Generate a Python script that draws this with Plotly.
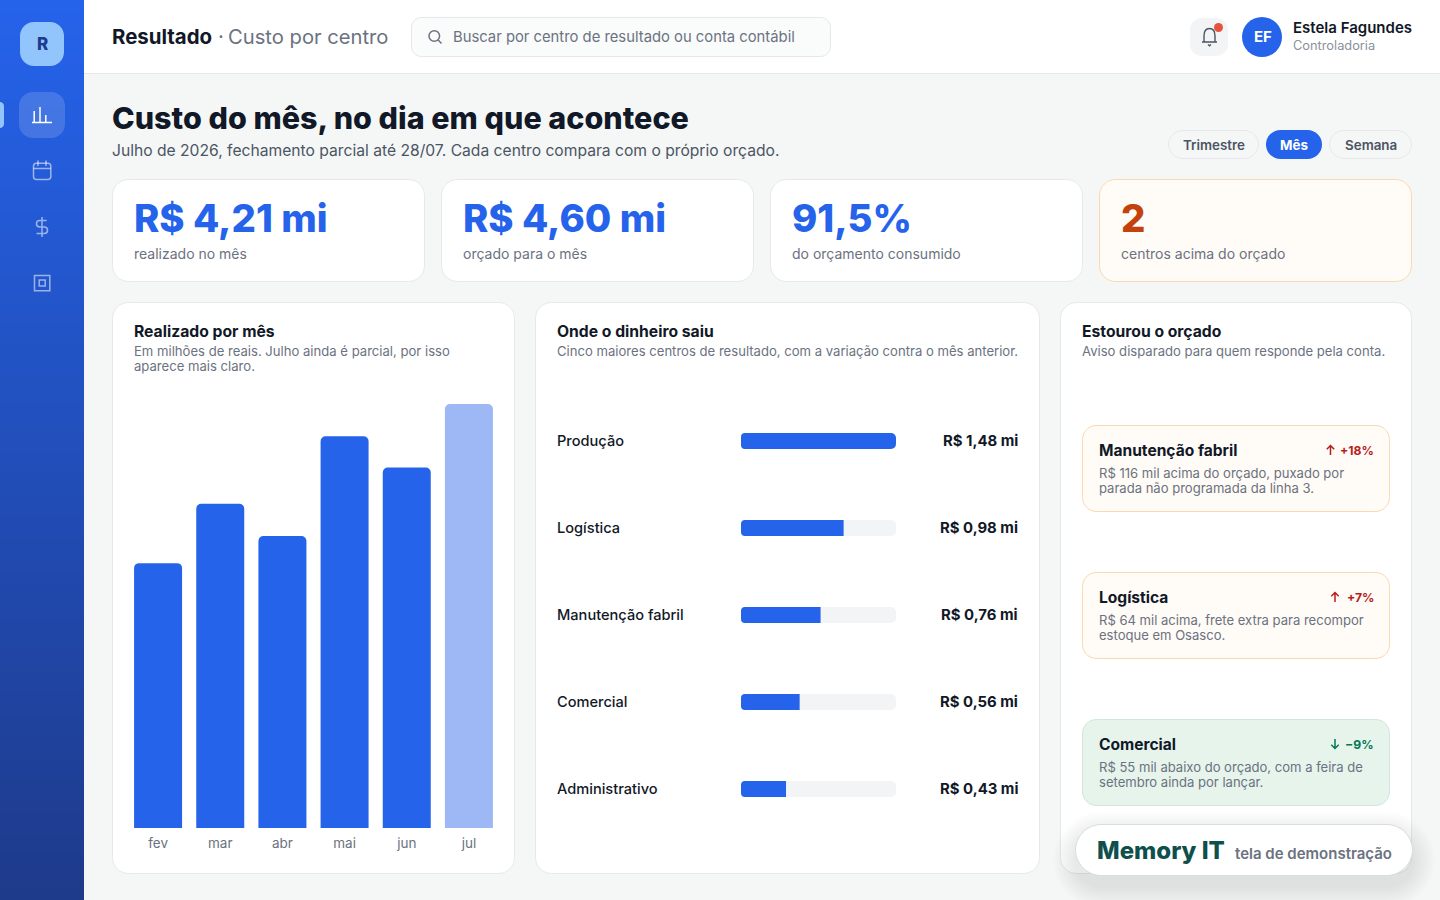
import plotly.graph_objects as go

# ---------- data ----------
months = ["fev", "mar", "abr", "mai", "jun", "jul"]
realized = [2.63, 3.22, 2.90, 3.89, 3.58, 4.21]
centers = ["Produção", "Logística", "Manutenção fabril", "Comercial", "Administrativo"]
center_values = [1.48, 0.98, 0.76, 0.56, 0.43]
kpi_values = ["R$ 4,21 mi", "R$ 4,60 mi", "91,5%", "2"]
kpi_labels = ["realizado no mês", "orçado para o mês", "do orçamento consumido", "centros acima do orçado"]
alert_titles = ["Manutenção fabril", "Logística", "Comercial"]
alert_deltas = ["+18%", "+7%", "−9%"]
alert_lines = [
    ["R$ 116 mil acima do orçado, puxado por", "parada não programada da linha 3."],
    ["R$ 64 mil acima, frete extra para recompor", "estoque em Osasco."],
    ["R$ 55 mil abaixo do orçado, com a feira de", "setembro ainda por lançar."],
]
periods = ["Trimestre", "Mês", "Semana"]

# ---------- style ----------
W, H = 1440, 900
FONT = "Inter"
BLUE = "#2563eb"
INK = "#111827"
SOFT = "#4b5563"
MUTED = "#6b7280"
LINE = "#e6e9ea"

def X(x): return x / W
def Y(y): return 1 - y / H
def P(x, y): return f"{X(x):.6f},{Y(y):.6f}"

shapes, notes = [], []

def rr_path(x0, y0, x1, y1, r):
    if isinstance(r, (int, float)):
        r = (r, r, r, r)
    tl, tr, br, bl = r
    k = 0.4477
    return (f"M{P(x0+tl,y0)} L{P(x1-tr,y0)} C{P(x1-tr*k,y0)} {P(x1,y0+tr*k)} {P(x1,y0+tr)} "
            f"L{P(x1,y1-br)} C{P(x1,y1-br*k)} {P(x1-br*k,y1)} {P(x1-br,y1)} "
            f"L{P(x0+bl,y1)} C{P(x0+bl*k,y1)} {P(x0,y1-bl*k)} {P(x0,y1-bl)} "
            f"L{P(x0,y0+tl)} C{P(x0,y0+tl*k)} {P(x0+tl*k,y0)} {P(x0+tl,y0)} Z")

def box(x0, y0, x1, y1, r, fill, line=None, layer="below"):
    if line:
        x0 += .5; y0 += .5; x1 -= .5; y1 -= .5
    shapes.append(dict(type="path", path=rr_path(x0, y0, x1, y1, r), xref="paper", yref="paper",
                       fillcolor=fill, line=dict(color=line or "rgba(0,0,0,0)", width=1 if line else 0), layer=layer))

def stroke(cmds, color, width=1.5):
    """cmds: list of ('M'|'L', x, y) or ('C', x1,y1,x2,y2,x,y)"""
    out = []
    for c in cmds:
        if c[0] == "Z":
            out.append("Z")
        elif c[0] == "C":
            out.append(f"C{P(c[1],c[2])} {P(c[3],c[4])} {P(c[5],c[6])}")
        else:
            out.append(f"{c[0]}{P(c[1],c[2])}")
    shapes.append(dict(type="path", path=" ".join(out), xref="paper", yref="paper",
                       line=dict(color=color, width=width), layer="below"))

def circle(cx, cy, r, fill=None, line=None, width=1.5):
    shapes.append(dict(type="circle", xref="paper", yref="paper", x0=X(cx-r), x1=X(cx+r), y0=Y(cy+r), y1=Y(cy-r),
                       fillcolor=fill or "rgba(0,0,0,0)", line=dict(color=line or "rgba(0,0,0,0)", width=width if line else 0),
                       layer="below"))

def text(x, y, s, size, color, weight=400, anchor="left"):
    notes.append(dict(x=X(x), y=Y(y), xref="paper", yref="paper", text=s, showarrow=False,
                      xanchor=anchor, yanchor="middle", borderpad=0, borderwidth=0,
                      font=dict(family=FONT, size=size, color=color, weight=weight)))

# ---------- page ----------
box(0, 0, W, H, 0, "#f5f7f7")
# sidebar gradient
top, bot = (37, 99, 235), (30, 58, 138)
step = 4
for i in range(0, H, step):
    t = i / H
    c = tuple(round(a + (b - a) * t) for a, b in zip(top, bot))
    shapes.append(dict(type="rect", xref="paper", yref="paper", x0=0, x1=X(84), y0=Y(i + step), y1=Y(i),
                       fillcolor=f"rgb{c}", line=dict(width=0), layer="below"))
# header
box(84, 0, W, 73, 0, "#ffffff")
box(84, 73, W, 74, 0, "#e5e7eb")

# sidebar items
box(20, 22, 64, 66, 14, "#93c5fd")
text(42, 44, "R", 17, "#1e3a8a", 800, "center")
box(19, 92, 65, 138, 14, "rgba(255,255,255,0.15)")
box(0, 102, 4, 128, (0, 4, 4, 0), "#93c5fd")
stroke([("M", 32, 122.5), ("L", 52, 122.5), ("M", 34.2, 122), ("L", 34.2, 111), ("M", 40, 122), ("L", 40, 107),
        ("M", 45.8, 122), ("L", 45.8, 115)], "#ffffff", 1.5)
ICON = "rgba(255,255,255,0.55)"
shapes.append(dict(type="path", path=rr_path(33.5, 163.2, 50.8, 179.5, 3), xref="paper", yref="paper",
                   line=dict(color=ICON, width=1.5), layer="below"))
stroke([("M", 33.5, 168.5), ("L", 50.8, 168.5), ("M", 38, 160.5), ("L", 38, 166), ("M", 46, 160.5), ("L", 46, 166)], ICON)
def dollar(u, v): return 42 + (u - 12) * 0.92, 227 + (v - 12) * 0.92
D = lambda *pts: [c for p in pts for c in dollar(*p)]
stroke([("M", *dollar(12, 1)), ("L", *dollar(12, 23)),
        ("M", *dollar(17, 5)), ("L", *dollar(9.5, 5)),
        ("C", *D((7.57, 5), (6, 6.57), (6, 8.5))), ("C", *D((6, 10.43), (7.57, 12), (9.5, 12))),
        ("L", *dollar(14.5, 12)), ("C", *D((16.43, 12), (18, 13.57), (18, 15.5))),
        ("C", *D((18, 17.43), (16.43, 19), (14.5, 19))), ("L", *dollar(6, 19))], ICON)
stroke([("M", 34.5, 275.5), ("L", 49.8, 275.5), ("L", 49.8, 290.8), ("L", 34.5, 290.8), ("Z",)], ICON)
stroke([("M", 39.2, 280), ("L", 45.2, 280), ("L", 45.2, 286), ("L", 39.2, 286), ("Z",)], ICON)

# top bar
text(112, 36, "Resultado", 20.4, INK, 700)
text(218, 36, "·", 20.4, MUTED, 400)
text(228, 36, "Custo por centro", 20.2, MUTED, 400)
box(411, 17, 831, 57, 10, "#fafbfb", "#e5e7eb")
circle(434.3, 36, 5.3, None, MUTED)
stroke([("M", 438.2, 40), ("L", 441.5, 43.4)], MUTED)
text(453, 37, "Buscar por centro de resultado ou conta contábil", 14.8, MUTED)
box(1190, 18, 1228, 56, 12, "#f3f4f6")
stroke([("M", 1202, 42), ("L", 1217, 42), ("M", 1204, 42), ("L", 1204, 36),
        ("C", 1204, 31, 1206.5, 28.5, 1209.5, 28.5), ("C", 1212.5, 28.5, 1215, 31, 1215, 36), ("L", 1215, 42),
        ("M", 1208, 44.5), ("L", 1209.5, 45.8), ("L", 1211, 44.5)], SOFT, 1.4)
circle(1218.5, 27.5, 4.5, "#e5533d")
circle(1262, 37, 20, BLUE)
text(1262.5, 37, "EF", 15, "#ffffff", 700, "center")
text(1293, 28, "Estela Fagundes", 15, INK, 600)
text(1293, 45.5, "Controladoria", 12.8, "#8a919c")

# heading
text(112, 117, "Custo do mês, no dia em que acontece", 30.5, INK, 800)
text(112, 150.4, "Julho de 2026, fechamento parcial até 28/07. Cada centro compara com o próprio orçado.", 15.65, SOFT)

# period pills
pill_x = [(1168, 1259), (1266, 1322), (1329, 1412)]
for (a, b), name in zip(pill_x, periods):
    on = name == "Mês"
    box(a, 130, b, 159, 14.5, BLUE if on else "#f5f7f7", None if on else "#e5e7eb")
    text((a + b) / 2, 144.5, name, 13.4, "#ffffff" if on else SOFT, 700 if on else 600, "center")

# KPI cards
kpi_x = [112, 441, 770, 1099]
for i, (x, v, l) in enumerate(zip(kpi_x, kpi_values, kpi_labels)):
    warn = i == 3
    box(x, 179, x + 313, 282, 16, "#fffbf6" if warn else "#ffffff", "#fbd9b0" if warn else LINE)
    text(x + 22, 217.5, v, 38.3, "#c2410c" if warn else BLUE, 800)
    text(x + 22, 254, l, 14, MUTED)

# panels
for a, b in [(112, 515), (535, 1040), (1060, 1412)]:
    box(a, 302, b, 874, 16, "#ffffff", LINE)

text(134, 331, "Realizado por mês", 15.7, INK, 700)
text(134, 351, "Em milhões de reais. Julho ainda é parcial, por isso", 13.1, MUTED)
text(134, 366, "aparece mais claro.", 13.1, MUTED)
text(557, 331, "Onde o dinheiro saiu", 15.7, INK, 700)
text(557, 351, "Cinco maiores centros de resultado, com a variação contra o mês anterior.", 13.1, MUTED)
text(1082, 331, "Estourou o orçado", 15.7, INK, 700)
text(1082, 351, "Aviso disparado para quem responde pela conta.", 13.1, MUTED)

# center rows: labels and amounts
for name, v in zip(centers, center_values):
    amount = f"R$ {v:.2f} mi".replace(".", ",")
    notes.append(dict(x=X(557), y=name, xref="paper", yref="y2", text=name, showarrow=False, xanchor="left",
                      yanchor="middle", borderpad=0, borderwidth=0, yshift=0.5,
                      font=dict(family=FONT, size=14.6, color=INK, weight=500)))
    notes.append(dict(x=X(1018), y=name, xref="paper", yref="y2", text=amount, showarrow=False, xanchor="right",
                      yanchor="middle", borderpad=0, borderwidth=0, yshift=0.5,
                      font=dict(family=FONT, size=14.9, color=INK, weight=700)))

# round the left ends of the horizontal bars (white corners over the square bar starts)
for row in range(len(centers)):
    cy = 441 + 87 * row
    for sign in (-1, 1):
        yc = cy + sign * 8
        yi = yc - sign * 4
        path = f"M{P(741, yc)} L{P(745, yc)} Q{P(741, yc)} {P(741, yi)} Z"
        shapes.append(dict(type="path", path=path, xref="paper", yref="paper", fillcolor="#ffffff",
                           line=dict(width=0), layer="above"))

# alerts
alert_top = [425, 572, 719]
arrow_x = [1330.5, 1335, 1335]
for i, (t, title, delta, lines) in enumerate(zip(alert_top, alert_titles, alert_deltas, alert_lines)):
    good = delta.startswith("−")
    box(1082, t, 1390, t + 87, 14, "#e6f4ec" if good else "#fffbf6", "#cfe7dc" if good else "#fbd9b0")
    col = "#047857" if good else "#b91c1c"
    text(1099, t + 25, title, 15.55, INK, 700)
    text(1373.5, t + 25, delta, 12.2, col, 700, "right")
    ax = arrow_x[i]
    if good:
        stroke([("M", ax, t + 20), ("L", ax, t + 29.5), ("M", ax - 3.7, t + 25.8), ("L", ax, t + 29.5), ("L", ax + 3.7, t + 25.8)], col)
    else:
        stroke([("M", ax, t + 30), ("L", ax, t + 20.5), ("M", ax - 3.7, t + 24.2), ("L", ax, t + 20.5), ("L", ax + 3.7, t + 24.2)], col)
    text(1099, t + 48.4, lines[0], 13.05, MUTED)
    text(1099, t + 63.4, lines[1], 13.05, MUTED)

# demo badge
for k in range(22, 0, -2):
    box(1075 - k, 824 + 10 - k, 1413 + k, 876 + 10 + k, 26 + k, "rgba(17,40,40,0.009)", None, "above")
box(1075, 824, 1413, 876, 26, "#ffffff", "#d3e0dd", "above")
text(1097, 850, "Memory IT", 24, "#0f4f4c", 800)
text(1235, 853, "tela de demonstração", 15, MUTED, 600)

# ---------- charts ----------
fig = go.Figure()
fig.add_trace(go.Bar(x=months, y=realized, xaxis="x", yaxis="y", width=48 / 62.17,
                     marker=dict(color=[BLUE] * (len(months) - 1) + ["#9db8f5"], cornerradius=5, line=dict(width=0)),
                     hoverinfo="skip"))
fig.add_trace(go.Bar(y=centers, x=[max(center_values)] * len(centers), orientation="h", xaxis="x2", yaxis="y2",
                     width=16 / 87, marker=dict(color="#f3f4f6", cornerradius=5, line=dict(width=0)), hoverinfo="skip"))
fig.add_trace(go.Bar(y=centers, x=center_values, orientation="h", xaxis="x2", yaxis="y2",
                     width=16 / 87, marker=dict(color=BLUE, cornerradius=5, line=dict(width=0)), hoverinfo="skip"))

fig.update_layout(
    width=W, height=H, margin=dict(l=0, r=0, t=0, b=0), autosize=False,
    paper_bgcolor="#f5f7f7", plot_bgcolor="rgba(0,0,0,0)", showlegend=False, hovermode=False, barmode="overlay",
    font=dict(family=FONT),
    shapes=shapes, annotations=notes,
    xaxis=dict(domain=[X(127), X(500)], type="category", categoryorder="array", categoryarray=months,
               range=[-0.5, 5.5], showgrid=False, zeroline=False, showline=False, ticks="",
               ticklabelstandoff=5, tickfont=dict(family=FONT, size=13.5, color=MUTED), fixedrange=True),
    yaxis=dict(domain=[Y(828), Y(404)], range=[0, max(realized)], visible=False, fixedrange=True),
    xaxis2=dict(domain=[X(741), X(896)], range=[0, max(center_values)], visible=False, fixedrange=True, anchor="y2"),
    yaxis2=dict(domain=[Y(832.5), Y(397.5)], type="category", categoryorder="array", categoryarray=centers,
                range=[len(centers) - 0.5, -0.5], visible=False, fixedrange=True, anchor="x2"),
)

fig.write_html("out.html", config={"displayModeBar": False, "staticPlot": True},
               post_script="document.body.style.margin='0';document.body.style.overflow='hidden';document.body.style.background='#f5f7f7';")
